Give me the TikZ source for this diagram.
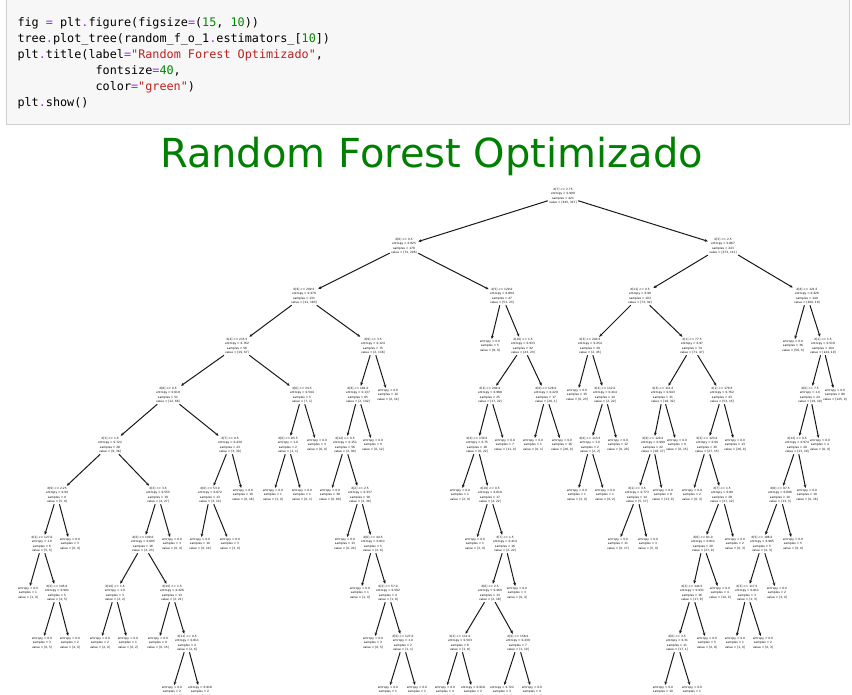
\documentclass[tikz,border=0pt]{standalone}
\usepackage{fontspec}
\usetikzlibrary{arrows.meta}
\newfontfamily\treefamily{DejaVu Sans}
\newfontfamily\titlefamily{DejaVu Sans}
\newfontfamily\codefamily{DejaVu Sans Mono}
\definecolor{cop}{HTML}{AA22FF}
\definecolor{cnum}{HTML}{008800}
\definecolor{cstr}{HTML}{BA2121}
\definecolor{codebg}{HTML}{F7F7F7}
\definecolor{codeframe}{HTML}{CFCFCF}
\definecolor{titlegreen}{HTML}{008000}
\newcommand{\op}[1]{\textcolor{cop}{#1}}
\newcommand{\nm}[1]{\textcolor{cnum}{#1}}
\newcommand{\st}[1]{\textcolor{cstr}{#1}}
\newcommand{\SN}[5]{X[#1] <= #2\\entropy = #3\\samples = #4\\value = [#5]}
\newcommand{\LF}[3]{entropy = #1\\samples = #2\\value = [#3]}
\tikzset{
  tn/.style={font={\treefamily\fontsize{2.9}{4.3}\selectfont}, align=center, inner sep=1.3pt, text=black},
  ed/.style={draw=black!90, line width=1pt, -{Stealth[length=3.2pt,width=2.8pt]}},
  codeline/.style={font={\codefamily\fontsize{11.8}{16}\selectfont}, anchor=base west, inner sep=0pt}
}
\begin{document}
\begin{tikzpicture}[x=1pt,y=-1pt]
\useasboundingbox (0,0) rectangle (852,695);
\fill[white] (0,0) rectangle (852,695);
% code cell
\draw[fill=codebg, draw=codeframe, line width=0.8pt] (6,-3) rectangle (849,124);
\node[codeline] (c1) at (17.3,26.5) {fig \op{=} plt\op{.}figure(figsize\op{=}(\nm{15}, \nm{10}))};
\node[codeline] (c2) at (17.3,42.5) {tree\op{.}plot\_tree(random\_f\_o\_1\op{.}estimators\_[\nm{10}])};
\node[codeline] (c3) at (17.3,58.5) {plt\op{.}title(label\op{=}\st{"Random Forest Optimizado"},};
\node[codeline] (c4) at (95.4,74.5) {fontsize\op{=}\nm{40},};
\node[codeline] (c5) at (95.4,90.5) {color\op{=}\st{"green"})};
\node[codeline] (c6) at (17.3,106.5) {plt\op{.}show()};
% title
\node[anchor=base, inner sep=0pt, font={\titlefamily\fontsize{40}{48}\selectfont}, text=titlegreen] (title) at (431.5,168) {Random Forest Optimizado};
% row 0-2
\node[tn] (A) at (563,196) {\SN{7}{2.75}{0.999}{421}{345, 317}};
\node[tn] (B) at (404,246) {\SN{6}{0.5}{0.825}{178}{72, 206}};
\node[tn] (C) at (723,246) {\SN{3}{2.5}{0.867}{243}{273, 111}};
\node[tn] (D) at (304,296) {\SN{6}{209.5}{0.479}{131}{21, 183}};
\node[tn] (E) at (502,296) {\SN{5}{129.0}{0.894}{47}{51, 23}};
\node[tn] (F) at (640,296) {\SN{11}{0.5}{0.99}{103}{73, 92}};
\node[tn] (G) at (807,296) {\SN{6}{121.5}{0.426}{140}{200, 19}};
% row 3
\node[tn] (D1) at (237,346) {\SN{4}{215.5}{0.762}{56}{19, 67}};
\node[tn] (D2) at (373,346) {\SN{9}{3.5}{0.124}{75}{2, 116}};
\node[tn] (E1) at (490,346) {\LF{0.0}{5}{8, 0}};
\node[tn] (E2) at (523,346) {\SN{10}{1.5}{0.933}{42}{43, 23}};
\node[tn] (F1) at (590,346) {\SN{3}{204.5}{0.254}{29}{2, 45}};
\node[tn] (F2) at (692,346) {\SN{1}{77.5}{0.97}{74}{71, 47}};
\node[tn] (G1) at (793,346) {\LF{0.0}{36}{56, 0}};
\node[tn] (G2) at (823,346) {\SN{1}{1.5}{0.519}{104}{144, 19}};
% row 4
\node[tn] (D1a) at (168,395) {\SN{8}{0.5}{0.619}{51}{12, 66}};
\node[tn] (D1b) at (302,395) {\SN{6}{34.5}{0.544}{5}{7, 1}};
\node[tn] (D2a) at (358,395) {\SN{6}{181.0}{0.137}{65}{2, 102}};
\node[tn] (D2b) at (388,395) {\LF{0.0}{10}{0, 14}};
\node[tn] (E2a) at (490,395) {\SN{3}{284.0}{0.988}{25}{17, 22}};
\node[tn] (E2b) at (546,395) {\SN{0}{126.0}{0.229}{17}{26, 1}};
\node[tn] (F1a) at (577,395) {\LF{0.0}{15}{0, 23}};
\node[tn] (F1b) at (605,395) {\SN{2}{112.0}{0.414}{14}{2, 22}};
\node[tn] (F2a) at (663,395) {\SN{3}{111.5}{0.943}{31}{18, 32}};
\node[tn] (F2b) at (722,395) {\SN{1}{179.5}{0.762}{43}{53, 15}};
\node[tn] (G2a) at (810,395) {\SN{0}{7.5}{1.0}{24}{19, 19}};
\node[tn] (G2b) at (835,395) {\LF{0.0}{80}{125, 0}};
% row 5
\node[tn] (p1) at (110,445) {\SN{1}{1.5}{0.722}{28}{9, 36}};
\node[tn] (p2) at (230,445) {\SN{7}{0.5}{0.439}{23}{3, 30}};
\node[tn] (p3) at (288,445) {\SN{0}{85.5}{1.0}{2}{1, 1}};
\node[tn] (p4) at (317,445) {\LF{0.0}{3}{6, 0}};
\node[tn] (p5) at (345,445) {\SN{12}{0.5}{0.151}{56}{2, 90}};
\node[tn] (p6) at (373,445) {\LF{0.0}{9}{0, 12}};
\node[tn] (p7) at (477,445) {\SN{4}{130.5}{0.75}{18}{6, 22}};
\node[tn] (p8) at (505,445) {\LF{0.0}{7}{11, 0}};
\node[tn] (p9) at (533,445) {\LF{0.0}{1}{0, 1}};
\node[tn] (p10) at (562,445) {\LF{0.0}{16}{26, 0}};
\node[tn] (p11) at (590,445) {\SN{0}{113.5}{1.0}{2}{2, 2}};
\node[tn] (p12) at (618,445) {\LF{0.0}{12}{0, 20}};
\node[tn] (p13) at (653,445) {\SN{6}{120.5}{0.999}{22}{18, 17}};
\node[tn] (p14) at (677,445) {\LF{0.0}{9}{0, 15}};
\node[tn] (p15) at (707,445) {\SN{2}{123.0}{0.94}{30}{27, 15}};
\node[tn] (p16) at (735,445) {\LF{0.0}{13}{26, 0}};
\node[tn] (p17) at (797,445) {\SN{12}{0.5}{0.974}{20}{13, 19}};
\node[tn] (p18) at (820,445) {\LF{0.0}{4}{6, 0}};
% row 6
\node[tn] (q1) at (57,495) {\SN{9}{2.25}{0.94}{9}{5, 9}};
\node[tn] (q2) at (158,495) {\SN{3}{3.5}{0.555}{19}{4, 27}};
\node[tn] (q3) at (210,495) {\SN{0}{53.0}{0.672}{13}{3, 14}};
\node[tn] (q4) at (243,495) {\LF{0.0}{10}{0, 16}};
\node[tn] (q5) at (273,495) {\LF{0.0}{1}{1, 0}};
\node[tn] (q6) at (302,495) {\LF{0.0}{1}{0, 1}};
\node[tn] (q7) at (330,495) {\LF{0.0}{38}{0, 60}};
\node[tn] (q8) at (360,495) {\SN{2}{2.5}{0.337}{18}{2, 30}};
\node[tn] (q9) at (460,495) {\LF{0.0}{1}{2, 0}};
\node[tn] (q10) at (490,495) {\SN{10}{0.5}{0.619}{17}{4, 22}};
\node[tn] (q11) at (577,495) {\LF{0.0}{1}{2, 0}};
\node[tn] (q12) at (605,495) {\LF{0.0}{1}{0, 2}};
\node[tn] (q13) at (637,495) {\SN{1}{3.5}{0.773}{14}{5, 17}};
\node[tn] (q14) at (663,495) {\LF{0.0}{8}{13, 0}};
\node[tn] (q15) at (692,495) {\LF{0.0}{2}{0, 3}};
\node[tn] (q16) at (722,495) {\SN{7}{1.5}{0.89}{28}{27, 12}};
\node[tn] (q17) at (780,495) {\SN{8}{97.5}{0.696}{10}{13, 3}};
\node[tn] (q18) at (807,495) {\LF{0.0}{10}{0, 16}};
% row 7
\node[tn] (s1) at (42,544) {\SN{2}{127.0}{1.0}{6}{5, 5}};
\node[tn] (s2) at (70,544) {\LF{0.0}{3}{0, 4}};
\node[tn] (s3) at (143,544) {\SN{0}{109.0}{0.605}{16}{4, 23}};
\node[tn] (s4) at (172,544) {\LF{0.0}{3}{0, 4}};
\node[tn] (s5) at (200,544) {\LF{0.0}{10}{0, 14}};
\node[tn] (s6) at (230,544) {\LF{0.0}{3}{3, 0}};
\node[tn] (s7) at (345,544) {\LF{0.0}{13}{0, 24}};
\node[tn] (s8) at (373,544) {\SN{6}{44.5}{0.811}{5}{2, 6}};
\node[tn] (s9) at (475,544) {\LF{0.0}{1}{2, 0}};
\node[tn] (s10) at (505,544) {\SN{7}{1.5}{0.414}{16}{2, 22}};
\node[tn] (s11) at (618,544) {\LF{0.0}{11}{0, 17}};
\node[tn] (s12) at (648,544) {\LF{0.0}{3}{5, 0}};
\node[tn] (s13) at (703,544) {\SN{6}{81.0}{0.811}{20}{27, 9}};
\node[tn] (s14) at (735,544) {\LF{0.0}{2}{0, 3}};
\node[tn] (s15) at (762,544) {\SN{5}{186.0}{0.985}{5}{4, 3}};
\node[tn] (s16) at (793,544) {\LF{0.0}{5}{9, 0}};
% row 8
\node[tn] (t1) at (28,593) {\LF{0.0}{1}{1, 0}};
\node[tn] (t2) at (57,593) {\SN{0}{195.0}{0.991}{5}{4, 5}};
\node[tn] (t3) at (115,593) {\SN{10}{1.5}{1.0}{3}{2, 2}};
\node[tn] (t4) at (172,593) {\SN{10}{1.5}{0.426}{13}{2, 21}};
\node[tn] (t5) at (360,593) {\LF{0.0}{1}{1, 0}};
\node[tn] (t6) at (388,593) {\SN{3}{57.0}{0.592}{4}{1, 6}};
\node[tn] (t7) at (490,593) {\SN{6}{2.5}{0.469}{13}{2, 18}};
\node[tn] (t8) at (517,593) {\LF{0.0}{3}{0, 4}};
\node[tn] (t9) at (692,593) {\SN{2}{144.5}{0.931}{16}{17, 9}};
\node[tn] (t10) at (720,593) {\LF{0.0}{4}{10, 0}};
\node[tn] (t11) at (747,593) {\SN{3}{117.5}{0.811}{3}{1, 3}};
\node[tn] (t12) at (777,593) {\LF{0.0}{2}{3, 0}};
% row 9
\node[tn] (u1) at (42,643) {\LF{0.0}{3}{0, 5}};
\node[tn] (u2) at (70,643) {\LF{0.0}{2}{4, 0}};
\node[tn] (u3) at (100,643) {\LF{0.0}{2}{2, 0}};
\node[tn] (u4) at (128,643) {\LF{0.0}{1}{0, 2}};
\node[tn] (u5) at (158,643) {\LF{0.0}{9}{0, 15}};
\node[tn] (u6) at (187,643) {\SN{11}{0.5}{0.811}{4}{2, 6}};
\node[tn] (u7) at (373,643) {\LF{0.0}{3}{0, 5}};
\node[tn] (u8) at (403,643) {\SN{0}{127.0}{1.0}{2}{1, 1}};
\node[tn] (u9) at (460,643) {\SN{2}{111.0}{0.503}{6}{1, 8}};
\node[tn] (u10) at (518,643) {\SN{0}{158.0}{0.439}{7}{1, 10}};
\node[tn] (u11) at (677,643) {\SN{0}{3.5}{0.31}{11}{17, 1}};
\node[tn] (u12) at (707,643) {\LF{0.0}{5}{0, 8}};
\node[tn] (u13) at (735,643) {\LF{0.0}{1}{1, 0}};
\node[tn] (u14) at (763,643) {\LF{0.0}{2}{0, 3}};
% row 10
\node[tn] (w1) at (172,692) {\LF{0.0}{2}{0, 5}};
\node[tn] (w2) at (200,692) {\LF{0.918}{2}{2, 1}};
\node[tn] (w3) at (388,692) {\LF{0.0}{1}{1, 0}};
\node[tn] (w4) at (417,692) {\LF{0.0}{1}{0, 1}};
\node[tn] (w5) at (445,692) {\LF{0.0}{4}{0, 6}};
\node[tn] (w6) at (473,692) {\LF{0.918}{2}{1, 2}};
\node[tn] (w7) at (502,692) {\LF{0.722}{3}{1, 4}};
\node[tn] (w8) at (532,692) {\LF{0.0}{4}{0, 6}};
\node[tn] (w9) at (663,692) {\LF{0.0}{10}{17, 0}};
\node[tn] (w10) at (692,692) {\LF{0.0}{1}{0, 1}};
% edges
\foreach \a/\b in {A/B, A/C, B/D, B/E, C/F, C/G,
  D/D1, D/D2, E/E1, E/E2, F/F1, F/F2, G/G1, G/G2,
  D1/D1a, D1/D1b, D2/D2a, D2/D2b, E2/E2a, E2/E2b, F1/F1a, F1/F1b, F2/F2a, F2/F2b, G2/G2a, G2/G2b,
  D1a/p1, D1a/p2, D1b/p3, D1b/p4, D2a/p5, D2a/p6, E2a/p7, E2a/p8, E2b/p9, E2b/p10, F1b/p11, F1b/p12, F2a/p13, F2a/p14, F2b/p15, F2b/p16, G2a/p17, G2a/p18,
  p1/q1, p1/q2, p2/q3, p2/q4, p3/q5, p3/q6, p5/q7, p5/q8, p7/q9, p7/q10, p11/q11, p11/q12, p13/q13, p13/q14, p15/q15, p15/q16, p17/q17, p17/q18,
  q1/s1, q1/s2, q2/s3, q2/s4, q3/s5, q3/s6, q8/s7, q8/s8, q10/s9, q10/s10, q13/s11, q13/s12, q16/s13, q16/s14, q17/s15, q17/s16,
  s1/t1, s1/t2, s3/t3, s3/t4, s8/t5, s8/t6, s10/t7, s10/t8, s13/t9, s13/t10, s15/t11, s15/t12,
  t2/u1, t2/u2, t3/u3, t3/u4, t4/u5, t4/u6, t6/u7, t6/u8, t7/u9, t7/u10, t9/u11, t9/u12, t11/u13, t11/u14,
  u6/w1, u6/w2, u8/w3, u8/w4, u9/w5, u9/w6, u10/w7, u10/w8, u11/w9, u11/w10}
  \draw[ed] (\a) -- (\b);
\end{tikzpicture}
\end{document}
